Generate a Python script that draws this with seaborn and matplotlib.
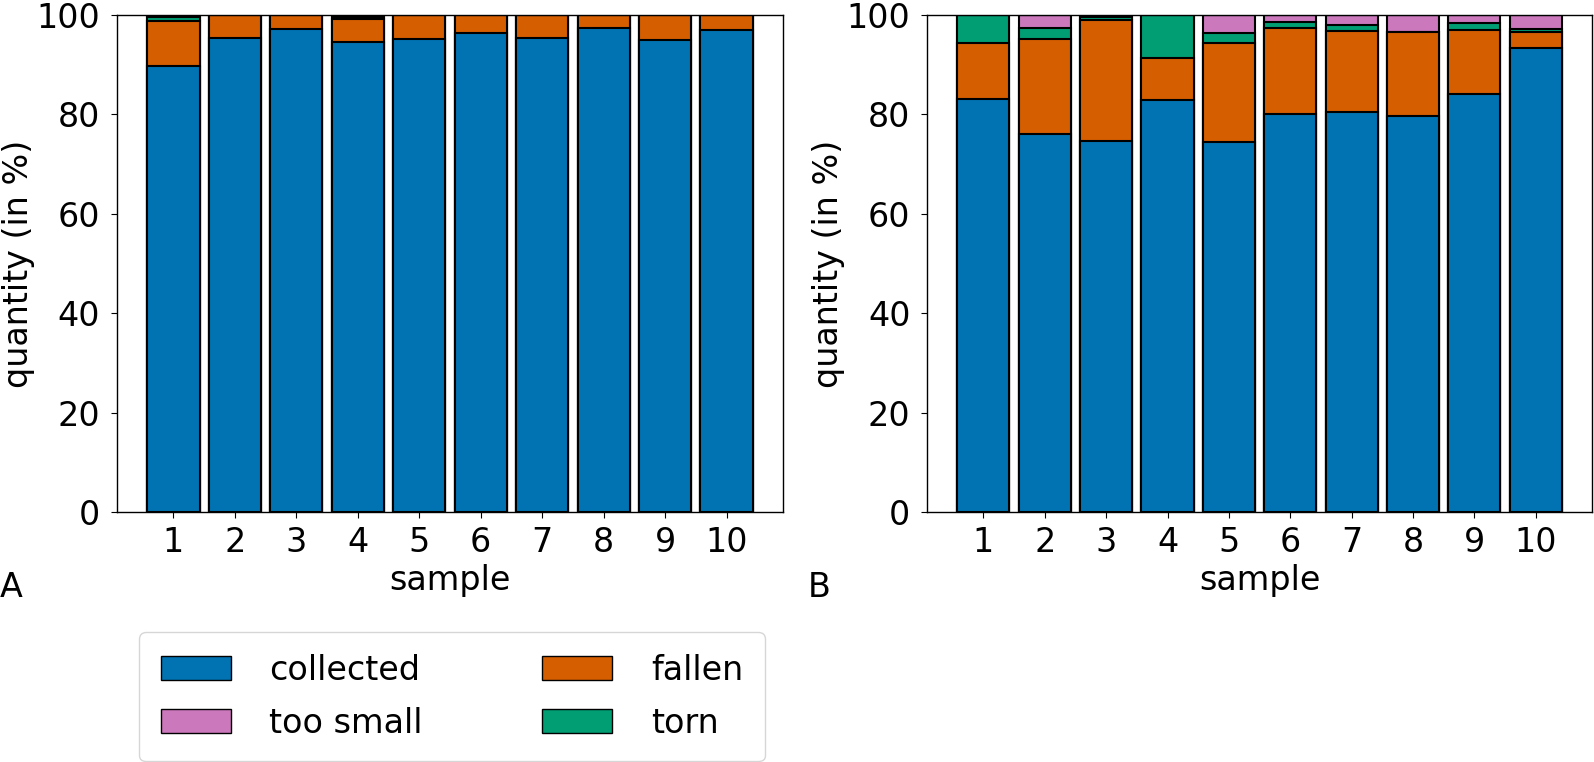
import pandas as pd
import matplotlib
matplotlib.use("Agg")
import matplotlib.pyplot as plt
import seaborn as sns
from matplotlib.patches import Patch

samples = [str(i) for i in range(1, 11)]

# panel A
a_collected = [89.8, 95.4, 97.2, 94.6, 95.2, 96.4, 95.3, 97.3, 94.9, 97.0]
a_fallen = [9.0, 4.6, 2.8, 4.6, 4.8, 3.6, 4.7, 2.7, 5.1, 3.0]
a_torn = [0.9, 0.0, 0.0, 0.5, 0.0, 0.0, 0.0, 0.0, 0.0, 0.0]
a_small = [0.3, 0.0, 0.0, 0.3, 0.0, 0.0, 0.0, 0.0, 0.0, 0.0]

# panel B
b_collected = [83.2, 76.1, 74.7, 82.8, 74.4, 80.0, 80.5, 79.6, 84.1, 93.3]
b_fallen = [11.1, 19.0, 24.2, 8.5, 19.9, 17.4, 16.3, 16.9, 12.9, 3.2]
b_torn = [5.7, 2.3, 0.6, 8.7, 2.0, 1.2, 1.1, 0.1, 1.4, 0.7]
b_small = [0.0, 2.6, 0.5, 0.0, 3.7, 1.4, 2.1, 3.4, 1.6, 2.8]

colors = {
    "collected": "#0173b2",
    "fallen": "#d55e00",
    "too small": "#cc78bc",
    "torn": "#029e73",
}

sns.set_style("ticks")
plt.rcParams["font.family"] = ["DejaVu Sans"]
plt.rcParams["font.size"] = 24
plt.rcParams["text.color"] = "black"
plt.rcParams["axes.labelcolor"] = "black"
plt.rcParams["xtick.color"] = "black"
plt.rcParams["ytick.color"] = "black"
plt.rcParams["xtick.major.size"] = 4
plt.rcParams["ytick.major.size"] = 4
plt.rcParams["ytick.major.pad"] = 8
plt.rcParams["xtick.major.pad"] = 6


def stacked(ax, collected, fallen, torn, small):
    df = pd.DataFrame({
        "sample": samples,
        "collected": collected,
        "fallen": fallen,
        "torn": torn,
        "too small": small,
    })
    # cumulative tops, drawn from the top layer down
    df["c_small"] = df["collected"] + df["fallen"] + df["torn"] + df["too small"]
    df["c_torn"] = df["collected"] + df["fallen"] + df["torn"]
    df["c_fallen"] = df["collected"] + df["fallen"]
    df["c_collected"] = df["collected"]
    for col, name in [("c_small", "too small"), ("c_torn", "torn"),
                      ("c_fallen", "fallen"), ("c_collected", "collected")]:
        sns.barplot(data=df, x="sample", y=col, order=samples, color=colors[name],
                    saturation=1, width=0.85, edgecolor="black", linewidth=1.5,
                    errorbar=None, ax=ax)
    ax.set_xlim(-0.9175, 9.9175)
    ax.set_ylim(0, 100)
    ax.set_yticks([0, 20, 40, 60, 80, 100])
    ax.set_xlabel("sample", fontsize=24)
    ax.set_ylabel("quantity (in %)", fontsize=24, labelpad=1)
    ax.tick_params(labelsize=24)
    for s in ax.spines.values():
        s.set_linewidth(1.0)
        s.set_color("black")


fig = plt.figure(figsize=(15.94, 7.62), dpi=100)
ax_a = fig.add_axes([0.0734, 0.3281, 0.4178, 0.6522])
ax_b = fig.add_axes([0.5816, 0.3281, 0.4172, 0.6522])

stacked(ax_a, a_collected, a_fallen, a_torn, a_small)
stacked(ax_b, b_collected, b_fallen, b_torn, b_small)

fig.text(0.0, 0.2165, "A", fontsize=24, ha="left", va="baseline")
fig.text(0.507, 0.2165, "B", fontsize=24, ha="left", va="baseline")

legend_elements = [
    Patch(facecolor=colors["collected"], edgecolor="black", label="collected"),
    Patch(facecolor=colors["too small"], edgecolor="black", label="too small"),
    Patch(facecolor=colors["fallen"], edgecolor="black", label="fallen"),
    Patch(facecolor=colors["torn"], edgecolor="black", label="torn"),
]
fig.legend(
    handles=legend_elements,
    loc="upper left",
    bbox_to_anchor=(0.0872, 0.1706),
    borderaxespad=0,
    ncol=2,
    fontsize=24,
    handlelength=2.1,
    handletextpad=1.15,
    columnspacing=3.6,
    borderpad=0.65,
    labelspacing=0.6,
    frameon=True,
)

fig.savefig("out.png", dpi=100)
